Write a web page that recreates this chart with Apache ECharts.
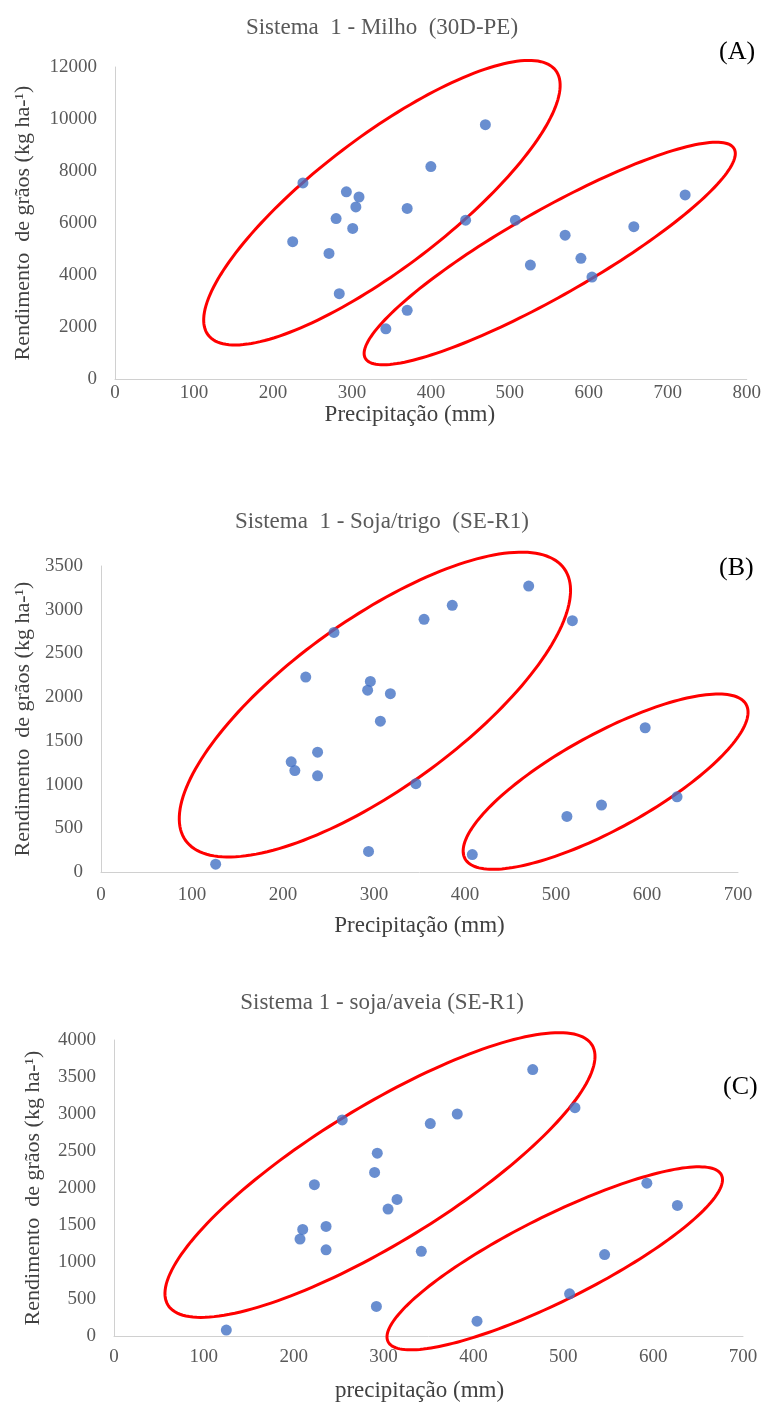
<!DOCTYPE html>
<html><head><meta charset="utf-8">
<script src="https://cdn.jsdelivr.net/npm/echarts@6/dist/echarts.min.js"></script>
<style>html,body{margin:0;padding:0;background:#fff}#c{width:764px;height:1407px}</style>
</head><body><div id="c"></div>
<script>
// Panel A — Sistema 1 - Milho (30D-PE)
const precipA = [238,225,271,280,284,293,301,305,309,343,370,370,400,444,469,507,526,570,590,604,657,722];
const yieldA  = [7540,5280,4830,6170,3280,7200,5790,6620,7000,1930,6560,2640,8170,6110,9780,6110,4380,5530,4640,3920,5860,7080];
// Panel B — Sistema 1 - Soja/trigo (SE-R1)
const precipB = [126,209,213,225,238,238,256,293,296,294,318,307,346,355,386,408,470,518,512,550,598,633];
const yieldB  = [90,1260,1160,2230,1370,1100,2740,2080,2180,235,2040,1725,1010,2890,3050,200,3270,2875,635,765,1650,860];
// Panel C — Sistema 1 - soja/aveia (SE-R1)
const precipC = [125,207,210,223,236,236,254,290,293,292,305,315,342,352,382,404,466,513,507,546,593,627];
const yieldC  = [80,1310,1440,2045,1480,1165,2920,2210,2470,400,1715,1845,1145,2870,3000,200,3600,3085,570,1100,2065,1765];
// Ellipse outlines (data coords): [tip1 x, tip1 y, tip2 x, tip2 y, side x, side y]
const ellipsesA = [[118,1690,558,11870,288,8800],[317,794,784,8860,524,6265]];
const ellipsesB = [[93,360,509,3470,247,2706],[400,152,709,1915,530,1515]];
const ellipsesC = [[60,419,532,3932,256,2958],[305,-77,676,2176,469,1557]];
// Axis settings
const xMax = [800,700,700], yMax = [12000,3500,4000], yStep = [2000,500,500];
const titles = ['Sistema  1 - Milho  (30D-PE)','Sistema  1 - Soja/trigo  (SE-R1)','Sistema 1 - soja/aveia (SE-R1)'];
const tags = ['(A)','(B)','(C)'];
const xNames = ['Precipitação (mm)','Precipitação (mm)','precipitação (mm)'];
const yName = 'Rendimento  de grãos (kg ha-¹)';

const SERIF = '"Liberation Serif","DejaVu Serif",serif';
const grids = [
  {left:115, top:67, width:634, height:312},
  {left:101, top:566, width:637, height:306},
  {left:114, top:1040, width:629, height:296}
];
const titleTop = [16,510,991];
const tagPos = [{left:719,top:39},{left:719,top:555},{left:723,top:1074}];
const yGap = [81,65,70];
const xGap = [23,42,43];
const xNamePad = [42,0,18];
const xLabelMargin = [5,14,12];

function toPairs(xs, ys){ return xs.map((x,i)=>[x, ys[i]]); }

function ellipseRender(params, api){
  const a = api.coord([api.value(0), api.value(1)]);
  const b = api.coord([api.value(2), api.value(3)]);
  const s = api.coord([api.value(4), api.value(5)]);
  const cx = (a[0]+b[0])/2, cy = (a[1]+b[1])/2;
  const dx = b[0]-a[0], dy = b[1]-a[1];
  const len = Math.hypot(dx, dy);
  const ux = dx/len, uy = dy/len;
  const rx = len/2;
  const ry = Math.abs(dx*(s[1]-a[1]) - dy*(s[0]-a[0]))/len;
  const nx = -uy, ny = ux;
  const pts = [];
  const N = 180;
  for (let k=0;k<N;k++){
    const t = 2*Math.PI*k/N;
    const c = Math.cos(t)*rx, d = Math.sin(t)*ry;
    pts.push([cx + c*ux + d*nx, cy + c*uy + d*ny]);
  }
  return {type:'polygon', shape:{points:pts}, style:{fill:'none', stroke:'#FF0000', lineWidth:3}, silent:true};
}

const ellipseSets = [ellipsesA, ellipsesB, ellipsesC];
const scatterSets = [toPairs(precipA,yieldA), toPairs(precipB,yieldB), toPairs(precipC,yieldC)];

const option = {
  animation:false,
  backgroundColor:'#ffffff',
  title: [
    ...titles.map((t,i)=>({text:t, left:'center', top:titleTop[i], padding:0,
      textStyle:{fontFamily:SERIF, fontSize:23, fontWeight:'normal', color:'#595959'}})),
    ...tags.map((t,i)=>({text:t, left:tagPos[i].left, top:tagPos[i].top, padding:0,
      textStyle:{fontFamily:SERIF, fontSize:26, fontWeight:'normal', color:'#000000'}}))
  ],
  grid: grids,
  xAxis: grids.map((g,i)=>({
    type:'value', gridIndex:i, min:0, max:xMax[i], interval:100,
    name:xNames[i], nameLocation:'middle', nameGap:xGap[i],
    nameTextStyle:{fontFamily:SERIF, fontSize:23, color:'#404040', padding:[0,xNamePad[i],0,0]},
    axisLine:{show:true, lineStyle:{color:'#d0d0d0', width:1}},
    axisTick:{show:false}, splitLine:{show:false},
    axisLabel:{fontFamily:SERIF, fontSize:19, color:'#595959', margin:xLabelMargin[i], formatter:v=>String(v)}
  })),
  yAxis: grids.map((g,i)=>({
    type:'value', gridIndex:i, min:0, max:yMax[i], interval:yStep[i],
    name:yName, nameLocation:'middle', nameGap:yGap[i], nameRotate:90,
    nameTextStyle:{fontFamily:SERIF, fontSize:22, color:'#404040'},
    axisLine:{show:true, lineStyle:{color:'#d0d0d0', width:1}},
    axisTick:{show:false}, splitLine:{show:false},
    axisLabel:{fontFamily:SERIF, fontSize:19, color:'#595959', margin:18, formatter:v=>String(v)}
  })),
  series: [
    ...scatterSets.map((d,i)=>({
      type:'scatter', xAxisIndex:i, yAxisIndex:i, data:d, symbol:'circle', symbolSize:11,
      itemStyle:{color:'#4472C4'}, z:3
    })),
    ...ellipseSets.map((d,i)=>({
      type:'custom', xAxisIndex:i, yAxisIndex:i, data:d, renderItem:ellipseRender, z:2,
      encode:{x:[0,2,4], y:[1,3,5]}, clip:false
    }))
  ]
};
const chart = echarts.init(document.getElementById('c'), null, {renderer:'canvas'});
chart.setOption(option);
</script></body></html>
